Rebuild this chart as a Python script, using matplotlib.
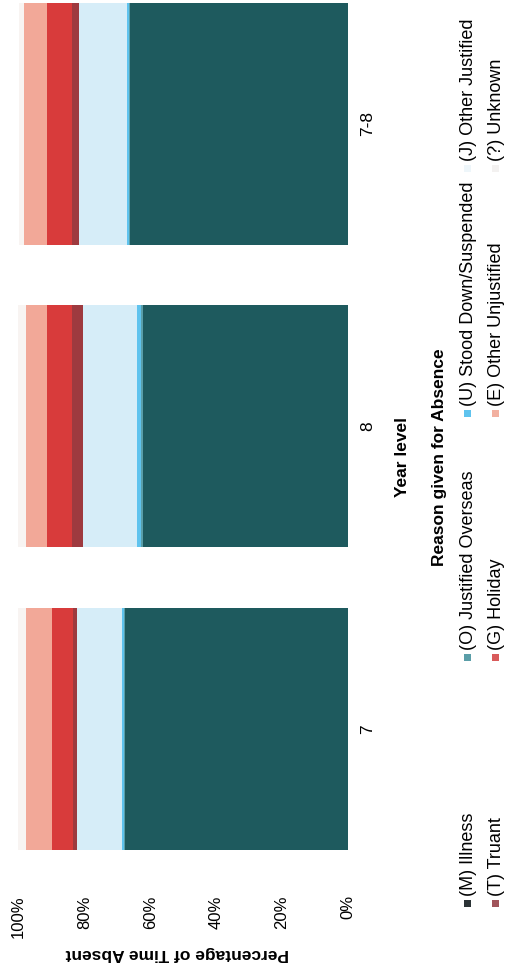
import matplotlib
matplotlib.use('Agg')
import matplotlib.pyplot as plt
import matplotlib.ticker
from matplotlib.patches import Rectangle

plt.rcParams['font.family'] = ['Liberation Sans', 'DejaVu Sans']

# chart is a scan rotated 90 degrees counter-clockwise, so it is drawn sideways
categories = ['7', '8', '7-8']
reasons = ['(M) Illness', '(O) Justified Overseas', '(U) Stood Down/Suspended', '(J) Other Justified',
           '(T) Truant', '(G) Holiday', '(E) Other Unjustified', '(?) Unknown']
illness = [67.8, 62.3, 66.3]
overseas = [0.3, 0.5, 0.3]
stood_down = [0.6, 1.3, 0.6]
other_justified = [13.4, 16.4, 14.3]
truant = [1.5, 3.4, 2.4]
holiday = [6.1, 7.3, 7.3]
other_unjustified = [7.9, 6.4, 7.0]
unknown = [2.4, 2.4, 1.8]
value_ticks = [0, 20, 40, 60, 80, 100]

series = [illness, overseas, stood_down, other_justified, truant, holiday, other_unjustified, unknown]
colors = ['#1e5a5e', '#5a9ea8', '#5fc3ee', '#d6edf8', '#9e3a3f', '#d83b3b', '#f2a898', '#f8f4f2']
legend_colors = ['#2b3336', '#5a9ea8', '#5fc3ee', '#eef6fa', '#a0545a', '#d95b5b', '#f2b0a0', '#f3f1f0']

W, H = 506, 969
fig = plt.figure(figsize=(W / 100, H / 100), dpi=100)
ax = fig.add_axes([18.5 / W, 89 / H, (348 - 18.5) / W, (H - 89) / H])

pos = list(range(len(categories)))
left = [0.0] * len(categories)
for vals, c in zip(series, colors):
    ax.barh(pos, vals, left=left, height=0.8, color=c, linewidth=0)
    left = [a + b for a, b in zip(left, vals)]

ax.set_xlim(100, 0)
ax.set_ylim(-0.5, 2.41)
ax.set_xticks(value_ticks)
ax.xaxis.set_major_formatter(matplotlib.ticker.FuncFormatter(lambda v, p: f'{v:.0f}%'))
ax.tick_params(axis='x', length=0, pad=11, labelsize=12, labelrotation=90)
ax.yaxis.tick_right()
ax.set_yticks(pos)
ax.set_yticklabels(categories, rotation=90, va='center', ha='left', fontsize=12.5)
ax.tick_params(axis='y', length=0, pad=9)
for s in ax.spines.values():
    s.set_visible(False)

fig.text(177 / W, 1 - 953 / H, 'Percentage of Time Absent', rotation=180, ha='center', va='center',
         fontsize=12.5, fontweight='bold')
fig.text(403 / W, 1 - 457 / H, 'Year level', rotation=90, ha='center', va='center',
         fontsize=12.5, fontweight='bold')
fig.text(440 / W, 1 - 457 / H, 'Reason given for Absence', rotation=90, ha='center', va='center',
         fontsize=12.5, fontweight='bold')

# legend, 2 rows x 4 columns, drawn by hand since it is rotated
row_x = [468, 496]
col_y = [903, 657, 413, 168]
for i, (name, c) in enumerate(zip(reasons, legend_colors)):
    x = row_x[i // 4]
    y = col_y[i % 4]
    fig.patches.append(Rectangle(((x - 3.5) / W, 1 - (y + 3.5) / H), 7 / W, 7 / H,
                                 transform=fig.transFigure, facecolor=c, edgecolor='none'))
    fig.text((x + 0.5) / W, 1 - (y - 7) / H, name, rotation=90, ha='center', va='bottom', fontsize=13)

fig.savefig('out.png', dpi=100)
